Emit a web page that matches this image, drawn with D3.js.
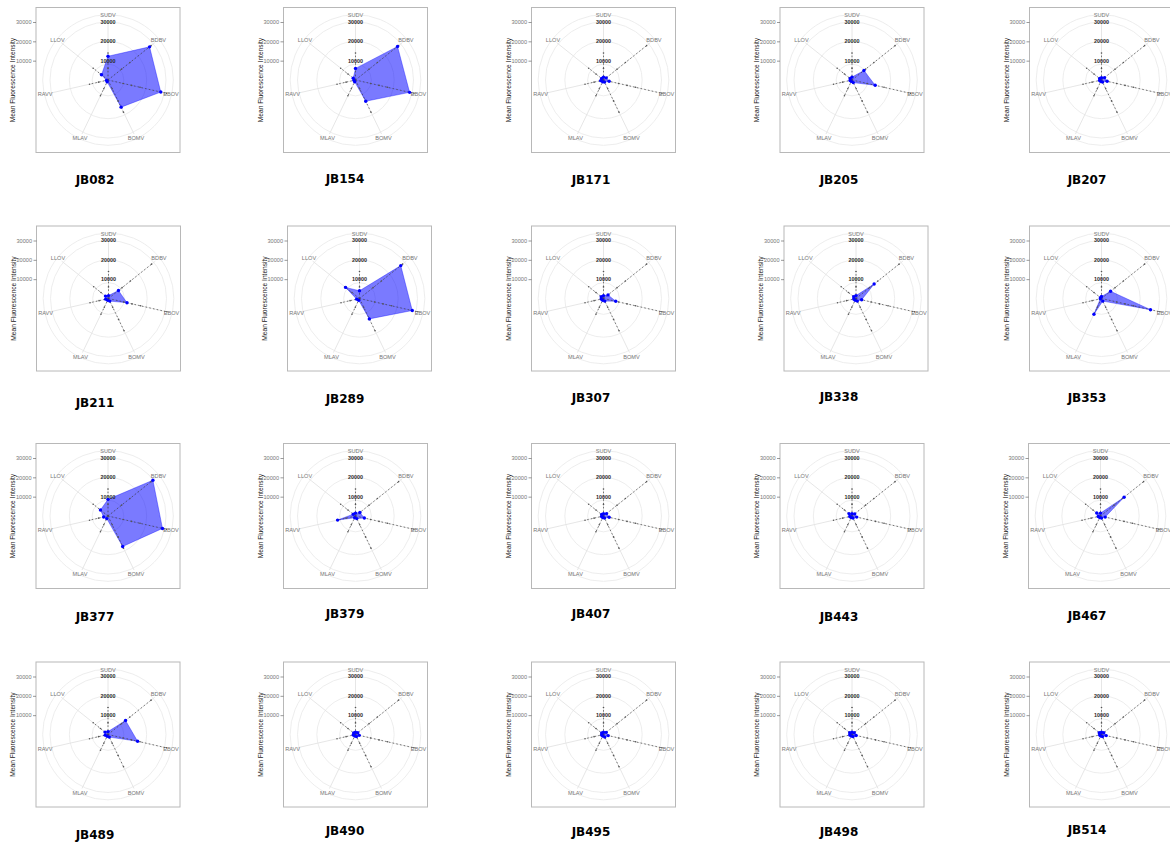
<!DOCTYPE html>
<html>
<head>
<meta charset="utf-8">
<script src="https://cdn.jsdelivr.net/npm/d3@7"></script>
<style>
body { margin: 0; background: #fff; }
svg { display: block; font-family: "Liberation Sans", Arial, sans-serif; }
</style>
</head>
<body>
<script>
// axes of every radar, clockwise from the top
var viruses = ["SUDV", "BDBV", "EBOV", "BOMV", "MLAV", "RAVV", "LLOV"];
var samples = ["JB082", "JB154", "JB171", "JB205", "JB207",
               "JB211", "JB289", "JB307", "JB338", "JB353",
               "JB377", "JB379", "JB407", "JB443", "JB467",
               "JB489", "JB490", "JB495", "JB498", "JB514"];

// mean fluorescence intensity per virus (same order as viruses)
var jb082 = [12300, 27500, 28000, 15600, 1000, 800, 4300];
var jb154 = [6000, 27800, 28700, 12200, 1000, 800, 1500];
var jb171 = [1500, 1800, 3000, 1200, 1000, 1500, 1200];
var jb205 = [1500, 7900, 12300, 1500, 800, 1000, 1200];
var jb207 = [1200, 2000, 3000, 1200, 800, 1000, 1200];
var jb211 = [1500, 6600, 9800, 1500, 1000, 1500, 2000];
var jb289 = [4000, 27300, 28000, 11700, 1000, 1500, 9200];
var jb307 = [1500, 3000, 6500, 1500, 1000, 1200, 1500];
var jb338 = [1500, 12000, 3000, 1500, 1000, 1200, 1500];
var jb353 = [1000, 6000, 26000, 1500, 9000, 600, 700];
var jb377 = [8600, 29700, 28900, 17500, 1500, 2300, 5000];
var jb379 = [1500, 2900, 4700, 1500, 1000, 9500, 1500];
var jb407 = [1200, 2000, 3000, 1200, 900, 1000, 1200];
var jb443 = [1200, 1800, 2500, 1200, 900, 1200, 2000];
var jb467 = [1500, 15600, 2500, 1200, 900, 1200, 2500];
var jb489 = [1500, 11600, 15700, 1500, 1000, 1500, 2000];
var jb490 = [1200, 1500, 2000, 1200, 900, 1200, 1200];
var jb495 = [1200, 1800, 2500, 1500, 900, 1000, 1200];
var jb498 = [1200, 1500, 2200, 1200, 900, 1200, 1500];
var jb514 = [1200, 1500, 2500, 1200, 900, 1000, 1500];
var allValues = [jb082, jb154, jb171, jb205, jb207, jb211, jb289, jb307, jb338, jb353,
                 jb377, jb379, jb407, jb443, jb467, jb489, jb490, jb495, jb498, jb514];

// reference samples (dashed dark spokes), same in every panel
var refPoints = [[6000, 14000], [9000, 14500, 28500], [8000, 12500, 17000, 31000],
                 [5000, 12000, 18500], [5000, 9000], [5000, 9800], [5000, 9800]];

var yTicks = [10000, 20000, 30000];
var gridValues = [8200, 20000, 30000, 33800];

var W = 1170, H = 843;
var boxW = 144, boxH = 145;

// panel placement (grid of 5 x 4, with small shifts as in the picture)
var colLeft = [36, 283.5, 531.5, 780, 1029.5];
var rowTop = [7.5, 226, 443.5, 662];
var colTitle = [95, 345, 591, 839, 1087];
var titleY = [180, 179, 180, 180, 180,
              403, 399, 398, 397, 398,
              617, 614, 614, 617, 616,
              835, 831, 832, 832, 830];
var shiftX = [0, 0, 0, 0, 0,
              0.5, 4, 0, 4, 0,
              0, 0, 0, 0, -1,
              0, 0, 0, 0, 0];

var svg = d3.select("body").append("svg")
    .attr("width", W)
    .attr("height", H);

var rScale = d3.scaleLinear().domain([0, 30000]).range([0, 58]);
var angle = d3.scalePoint().domain(viruses).range([0, 2 * Math.PI * 6 / 7]);

function px(v, a) { return rScale(v) * Math.sin(a); }
function py(v, a) { return -rScale(v) * Math.cos(a); }

var radar = d3.lineRadial()
    .angle(function(d, i) { return angle(viruses[i]); })
    .radius(function(d) { return rScale(d); })
    .curve(d3.curveLinearClosed);

samples.forEach(function(name, i) {
  var col = i % 5, row = Math.floor(i / 5);
  var left = colLeft[col] + shiftX[i], top = rowTop[row];
  var cx = left + boxW / 2, cy = top + 72.5;
  var values = allValues[i];

  var g = svg.append("g");

  // panel border
  g.append("rect")
    .attr("x", left).attr("y", top)
    .attr("width", boxW).attr("height", boxH)
    .attr("fill", "none")
    .attr("stroke", "#b8b8b8")
    .attr("stroke-width", 1);

  var p = g.append("g").attr("transform", "translate(" + cx + "," + cy + ")");

  // grid circles
  p.selectAll("circle.grid")
    .data(gridValues)
    .enter().append("circle")
    .attr("class", "grid")
    .attr("r", function(d) { return rScale(d); })
    .attr("fill", "none")
    .attr("stroke", "#ebebeb")
    .attr("stroke-width", 0.9);

  // spokes
  p.selectAll("line.spoke")
    .data(viruses)
    .enter().append("line")
    .attr("class", "spoke")
    .attr("x1", 0).attr("y1", 0)
    .attr("x2", function(d) { return px(31000, angle(d)); })
    .attr("y2", function(d) { return py(31000, angle(d)); })
    .attr("stroke", "#e3e3e3")
    .attr("stroke-width", 0.9);

  // virus labels
  p.selectAll("text.vlab")
    .data(viruses)
    .enter().append("text")
    .attr("class", "vlab")
    .attr("x", function(d) { return px(33400, angle(d)); })
    .attr("y", function(d) { return py(33400, angle(d)); })
    .attr("dy", "0.35em")
    .attr("text-anchor", "middle")
    .attr("font-size", "5.6px")
    .attr("fill", "#777")
    .text(function(d) { return d; });

  // sample polygon
  p.append("path")
    .datum(values)
    .attr("d", radar)
    .attr("fill", "#0000ff")
    .attr("fill-opacity", 0.52)
    .attr("stroke", "#0000ff")
    .attr("stroke-opacity", 0.6)
    .attr("stroke-width", 0.6);

  // inner tick labels on the SUDV spoke
  p.selectAll("text.rlab")
    .data(yTicks)
    .enter().append("text")
    .attr("class", "rlab")
    .attr("x", 0)
    .attr("y", function(d) { return -rScale(d); })
    .attr("dy", "0.35em")
    .attr("text-anchor", "middle")
    .attr("font-size", "5.4px")
    .attr("font-weight", "bold")
    .attr("fill", "#2a2a2a")
    .text(function(d) { return d; });

  // reference dashed spokes with their points
  p.selectAll("line.ref")
    .data(viruses)
    .enter().append("line")
    .attr("class", "ref")
    .attr("x1", 0).attr("y1", 0)
    .attr("x2", function(d, j) { return px(d3.max(refPoints[j]), angle(d)); })
    .attr("y2", function(d, j) { return py(d3.max(refPoints[j]), angle(d)); })
    .attr("stroke", "#444")
    .attr("stroke-width", 0.7)
    .attr("stroke-dasharray", "1.6,2.2");

  viruses.forEach(function(v, j) {
    p.selectAll(null)
      .data(refPoints[j])
      .enter().append("circle")
      .attr("cx", function(d) { return px(d, angle(v)); })
      .attr("cy", function(d) { return py(d, angle(v)); })
      .attr("r", 0.8)
      .attr("fill", "#555");
  });

  // sample points
  p.selectAll("circle.pt")
    .data(values)
    .enter().append("circle")
    .attr("class", "pt")
    .attr("cx", function(d, j) { return px(d, angle(viruses[j])); })
    .attr("cy", function(d, j) { return py(d, angle(viruses[j])); })
    .attr("r", 1.7)
    .attr("fill", "#0000ff");

  // left axis
  var yAxis = d3.scaleLinear().domain([0, 30000]).range([cy, cy - 58]);
  g.append("g")
    .attr("transform", "translate(" + left + ",0)")
    .call(d3.axisLeft(yAxis).tickValues(yTicks).tickFormat(d3.format("d"))
      .tickSize(3).tickPadding(1.5))
    .call(function(a) {
      a.select(".domain").remove();
      a.selectAll("line").attr("stroke", "#555").attr("stroke-width", 0.6);
      a.selectAll("text").attr("font-size", "5.6px").attr("fill", "#777")
        .attr("font-family", "Liberation Sans, Arial, sans-serif");
    });

  g.append("text")
    .attr("transform", "translate(" + (left - 23) + "," + cy + ") rotate(-90)")
    .attr("text-anchor", "middle")
    .attr("dy", "0.35em")
    .attr("font-size", "6.6px")
    .attr("fill", "#222")
    .text("Mean Fluorescence Intensity");

  // sample title
  svg.append("text")
    .attr("x", colTitle[col])
    .attr("y", titleY[i])
    .attr("dy", "0.36em")
    .attr("text-anchor", "middle")
    .attr("font-family", "DejaVu Sans, sans-serif")
    .attr("font-weight", "bold")
    .attr("font-size", "12px")
    .attr("fill", "#000")
    .text(name);
});
</script>
</body>
</html>
